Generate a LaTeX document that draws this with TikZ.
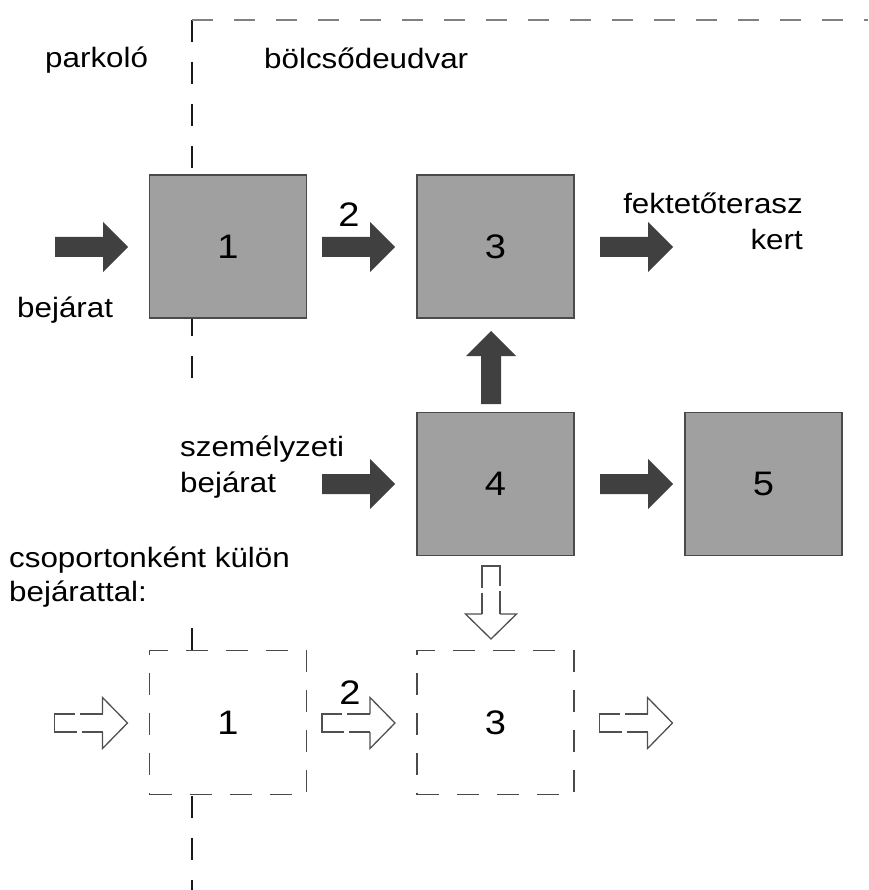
\documentclass[tikz,border=0pt]{standalone}
\usepackage{fontspec}
\setmainfont{Liberation Sans}[FakeStretch=1.12]
\definecolor{boxfill}{HTML}{A0A0A0}
\definecolor{boxline}{HTML}{4A4A4A}
\definecolor{arrowfill}{HTML}{404040}
\definecolor{topline}{HTML}{808080}
\definecolor{vlinec}{HTML}{1A1A1A}
\definecolor{hollowline}{HTML}{505050}
\begin{document}
\begin{tikzpicture}[x=1pt,y=-1pt,
  lbl/.style={font=\fontsize{28}{36}\selectfont, inner sep=0pt, text=black},
  num/.style={font=\fontsize{34}{40}\selectfont, inner sep=0pt, text=black},
  gbox/.style={draw=boxline, line width=1.8pt, fill=boxfill, minimum width=157pt, minimum height=143pt, inner sep=0pt, font=\fontsize{34}{40}\selectfont},
  dbox/.style={draw=boxline, line width=1.5pt, fill=white, dash pattern=on 22pt off 18pt, minimum width=157pt, minimum height=144pt, inner sep=0pt, font=\fontsize{34}{40}\selectfont},
  vline/.style={draw=vlinec, line width=1.3pt, dash pattern=on 22pt off 20pt},
  hline/.style={draw=topline, line width=1.5pt, dash pattern=on 21pt off 21pt},
  solidarr/.pic={\fill[arrowfill] (0,-10) -- (48,-10) -- (48,-25) -- (73,0) -- (48,25) -- (48,10) -- (0,10) -- cycle;},
  hollowarr/.pic={
    \draw[hollowline, line width=1.3pt, dash pattern=on 23pt off 5pt on 60pt off 5pt on 40pt off 0pt] (48,-9) -- (0,-9) -- (0,9) -- (48,9);
    \draw[hollowline, line width=1.3pt, line join=miter] (48,-9) -- (48,-25.5) -- (73,0) -- (48,25.5) -- (48,9);
  }]
\useasboundingbox (0,0) rectangle (868,890);
% zone borders
\coordinate (corner) at (192,20);
\coordinate (vgapa) at (192,396);
\coordinate (vgapb) at (192,628);
\coordinate (vend) at (192,890);
\coordinate (hend) at (868,20);
\draw[vline] (corner) -- (vgapa);
\draw[vline] (vgapb) -- (vend);
\draw[hline] (corner) -- (hend);
% boxes
\node[gbox] (b1) at (228,246.5) {1};
\node[gbox] (b3) at (495.5,246.5) {3};
\node[gbox] (b4) at (495.5,484) {4};
\node[gbox] (b5) at (763.5,484) {5};
\node[dbox] (d1) at (228,722.5) {1};
\node[dbox] (d3) at (495.5,722.5) {3};
% solid arrows
\pic at (55,247) {solidarr};
\pic at (322,247) {solidarr};
\pic at (600,247) {solidarr};
\pic[rotate=90] at (491,404) {solidarr};
\pic at (322,484) {solidarr};
\pic at (600,484) {solidarr};
% hollow arrows
\pic at (54.5,723) {hollowarr};
\pic at (322,723) {hollowarr};
\pic at (599.5,723) {hollowarr};
\pic[rotate=-90] at (491,566) {hollowarr};
% labels
\node[lbl, anchor=base west] (tpark) at (45,68) {parkoló};
\node[lbl, anchor=base west] (tudvar) at (264,69) {bölcsődeudvar};
\node[lbl, anchor=base west] (tbej) at (17,317) {bejárat};
\node[num] (t2a) at (349,215) {2};
\node[num] (t2b) at (350,692.5) {2};
\node[lbl, anchor=base east] (tfek) at (803,213.5) {fektetőterasz};
\node[lbl, anchor=base east] (tkert) at (803,250) {kert};
\node[lbl, anchor=base west] (tszem) at (180,456) {személyzeti};
\node[lbl, anchor=base west] (tszem2) at (180,492) {bejárat};
\node[lbl, anchor=base west] (tcsop) at (9,567.5) {csoportonként külön};
\node[lbl, anchor=base west] (tcsop2) at (9,601) {bejárattal:};
\end{tikzpicture}
\end{document}
